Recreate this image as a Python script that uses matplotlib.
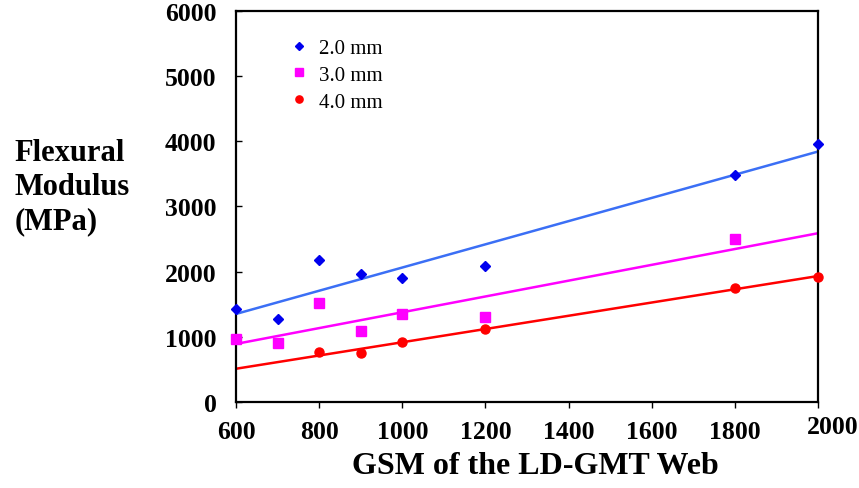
import matplotlib
matplotlib.use("Agg")
import matplotlib.pyplot as plt
import matplotlib.transforms as mtrans
import numpy as np

plt.rcParams['font.family'] = ['Liberation Serif', 'DejaVu Serif']

# GSM of the web (x) and flexural modulus in MPa (y) for each thickness
gsm_2mm = [600, 700, 800, 900, 1000, 1200, 1800, 2000]
mod_2mm = [1420, 1270, 2185, 1960, 1910, 2090, 3490, 3960]

gsm_3mm = [600, 700, 800, 900, 1000, 1200, 1800]
mod_3mm = [965, 910, 1515, 1090, 1355, 1300, 2500]

gsm_4mm = [800, 900, 1000, 1200, 1800, 2000]
mod_4mm = [760, 757, 920, 1120, 1750, 1920]

labels = ["2.0 mm", "3.0 mm", "4.0 mm"]
x_ticks = [600, 800, 1000, 1200, 1400, 1600, 1800, 2000]
y_ticks = [0, 1000, 2000, 3000, 4000, 5000, 6000]

fig = plt.figure(figsize=(8.59, 4.89), dpi=100)
ax = fig.add_axes([0.2747, 0.1759, 0.6776, 0.7996])

series = [
    (gsm_2mm, mod_2mm, "D", "#0000ee", "#3b6ff5", 5.5),
    (gsm_3mm, mod_3mm, "s", "#ff00ff", "#ff00ff", 6.5),
    (gsm_4mm, mod_4mm, "o", "#ff0000", "#ff0000", 6.5),
]

fit_x = np.array([600, 2000])
for (xs, ys, mk, mc, lc, ms), lab in zip(series, labels):
    ax.plot(xs, ys, linestyle="none", marker=mk, color=mc, markersize=ms,
            label=lab, clip_on=False, zorder=3)
    k, b = np.polyfit(xs, ys, 1)
    ax.plot(fit_x, k * fit_x + b, color=lc, linewidth=1.8, zorder=2)

ax.set_xlim(600, 2000)
ax.set_ylim(0, 6000)
ax.set_xticks(x_ticks)
ax.set_yticks(y_ticks)
ax.tick_params(axis="y", direction="in", length=4, width=1, pad=14, labelsize=18.5)
ax.tick_params(axis="x", direction="out", length=4, width=1, pad=9, labelsize=18.5)
for lbl in ax.get_xticklabels() + ax.get_yticklabels():
    lbl.set_fontweight("bold")
# the last x label sits a little right and higher in the original
last = ax.get_xticklabels()[-1]
last.set_transform(last.get_transform() +
                   mtrans.ScaledTranslation(15 / 100, 5 / 100, fig.dpi_scale_trans))
for s in ax.spines.values():
    s.set_linewidth(1.6)

ax.legend(loc="upper left", bbox_to_anchor=(0.062, 0.978), frameon=False,
          fontsize=15, handlelength=0.8, handletextpad=0.55, labelspacing=0.35,
          markerscale=0.8)

fig.text(0.017, 0.616, "Flexural\nModulus\n(MPa)", fontsize=22, fontweight="bold",
         ha="left", va="center", linespacing=1.22)
fig.text(0.623, 0.047, "GSM of the LD-GMT Web", fontsize=23, fontweight="bold",
         ha="center", va="center")

fig.savefig("out.png", dpi=100)
